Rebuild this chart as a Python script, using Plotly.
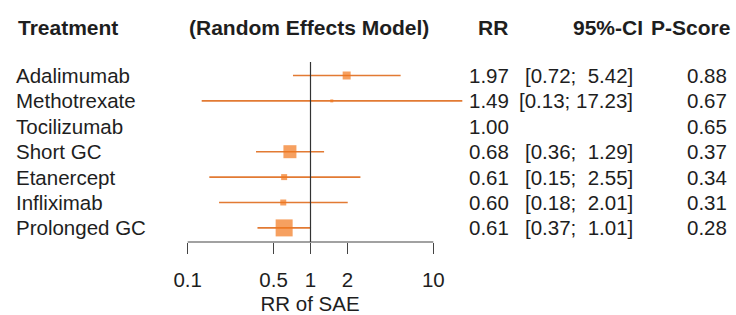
import plotly.graph_objects as go

treatments = ["Adalimumab", "Methotrexate", "Tocilizumab", "Short GC",
              "Etanercept", "Infliximab", "Prolonged GC"]
rr = [1.97, 1.49, 1.00, 0.68, 0.61, 0.60, 0.61]
ci_lower = [0.72, 0.13, None, 0.36, 0.15, 0.18, 0.37]
ci_upper = [5.42, 17.23, None, 1.29, 2.55, 2.01, 1.01]
pscore = [0.88, 0.67, 0.65, 0.37, 0.34, 0.31, 0.28]
box_size = [8, 3, 0, 13, 6, 6, 17]
tick_vals = [0.1, 0.5, 1, 2, 10]
tick_text = ["0.1", "0.5", "1", "2", "10"]

W, H = 736, 315
L, R, T, B = 150, 470, 0, 242       # plot area in pixels
ROW0, DROW = 75.5, 25.4             # pixel y of first row, row spacing

def row_of_pixel(p):
    return 1 + (p - ROW0) / DROW

def px(xpix):
    return (xpix - L) / (R - L)

FONT = "Liberation Sans, Arial, sans-serif"
TXT = "#1e1e1e"
ORANGE_LINE = "#E27A33"
ORANGE_BOX = "#F2781C"
FS = 20.5
FSB = 21

rows = list(range(1, len(treatments) + 1))

fig = go.Figure()

# CI lines
lx, ly = [], []
for r, lo, hi in zip(rows, ci_lower, ci_upper):
    if lo is None:
        continue
    lx += [lo, hi, None]
    ly += [r, r, None]
fig.add_trace(go.Scatter(x=lx, y=ly, mode="lines",
                         line=dict(color=ORANGE_LINE, width=1.6),
                         hoverinfo="skip", showlegend=False))

# point estimates
mx = [v for v, s in zip(rr, box_size) if s > 0]
my = [r for r, s in zip(rows, box_size) if s > 0]
ms = [s for s in box_size if s > 0]
fig.add_trace(go.Scatter(x=mx, y=my, mode="markers",
                         marker=dict(symbol="square", size=ms, color=ORANGE_BOX,
                                     line=dict(width=0)),
                         hoverinfo="skip", showlegend=False, cliponaxis=False))

# reference line at 1
fig.add_shape(type="line", xref="x", yref="y", x0=1, x1=1,
              y0=row_of_pixel(62), y1=row_of_pixel(B),
              line=dict(color="#333333", width=1.2))
# axis line from 0.1 to 10
fig.add_shape(type="line", xref="x", yref="paper", x0=tick_vals[0], x1=tick_vals[-1],
              y0=0, y1=0, line=dict(color="#444444", width=1.2))

ann = []
hy = row_of_pixel(27)
hfont = dict(family=FONT, size=FSB, color=TXT)
ann.append(dict(x=px(16), y=hy, text="<b>Treatment</b>", xanchor="left", font=hfont))
ann.append(dict(x=px(309), y=hy, text="<b>(Random Effects Model)</b>", xanchor="center", font=hfont))
ann.append(dict(x=px(510), y=hy, text="<b>RR</b>", xanchor="right", font=hfont))
ann.append(dict(x=px(645), y=hy, text="<b>95%-CI</b>", xanchor="right", font=hfont))
ann.append(dict(x=px(732), y=hy, text="<b>P-Score</b>", xanchor="right", font=hfont))

for r, name, v, lo, hi, p in zip(rows, treatments, rr, ci_lower, ci_upper, pscore):
    ann.append(dict(x=px(14), y=r, text=name, xanchor="left"))
    ann.append(dict(x=px(511), y=r, text=f"{v:.2f}", xanchor="right"))
    if lo is not None:
        hs = f"{hi:.2f}"
        pad = "  " if len(hs) < 5 else " "
        ann.append(dict(x=px(635), y=r, text=f"[{lo:.2f};{pad}{hs}]".replace(" ", "&nbsp;"),
                        xanchor="right"))
    ann.append(dict(x=px(729), y=r, text=f"{p:.2f}", xanchor="right"))

for a in ann:
    a.update(xref="paper", yref="y", showarrow=False, yanchor="middle")
    a.setdefault("font", dict(family=FONT, size=FS, color=TXT))
fig.update_layout(annotations=ann)

xr0 = (L - 310.5) / 122.8
xr1 = (R - 310.5) / 122.8
fig.update_xaxes(type="log", range=[xr0, xr1], showline=False, showgrid=False,
                 zeroline=False, tickvals=tick_vals, ticktext=tick_text,
                 ticks="outside", ticklen=11, tickwidth=1.2, tickcolor="#444444",
                 tickfont=dict(family=FONT, size=FS, color=TXT),
                 ticklabelstandoff=8,
                 title=dict(text="RR of SAE", font=dict(family=FONT, size=FS, color=TXT),
                            standoff=10))
fig.update_yaxes(range=[row_of_pixel(B), row_of_pixel(T)], visible=False)

fig.update_layout(width=W, height=H, margin=dict(l=L, r=W - R, t=T, b=H - B),
                  plot_bgcolor="white", paper_bgcolor="white", showlegend=False)

fig.write_html("out.html", config={"displayModeBar": False},
               post_script="document.body.style.margin='0';document.body.style.overflow='hidden';")
